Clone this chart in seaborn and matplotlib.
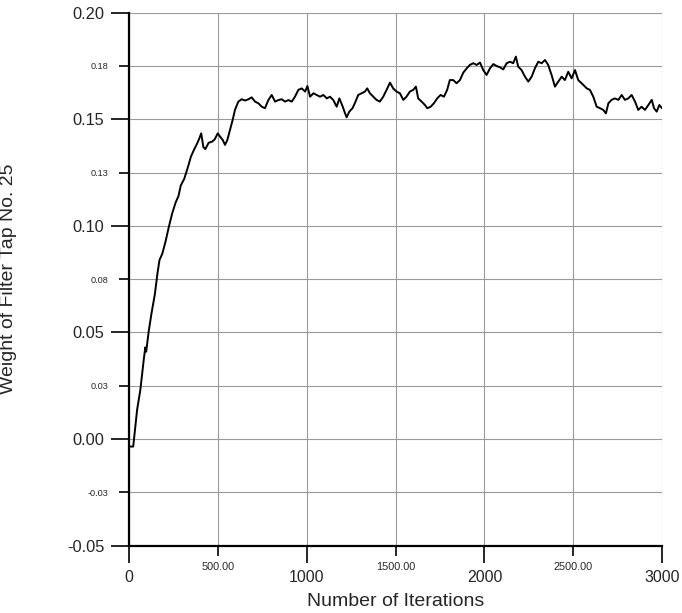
import matplotlib
matplotlib.use("Agg")
import matplotlib.pyplot as plt
import seaborn as sns
import pandas as pd

# Adaptive filter tap weight versus iteration count
iterations = [
    0, 22, 44, 62, 81, 90, 95, 110, 125, 144, 159, 170, 186, 205, 223, 242,
    261, 277, 290, 309, 328, 347, 366, 384, 394, 405, 417, 428, 447, 466, 481,
    498, 511, 526, 539, 552, 567, 582, 595, 614, 633, 652, 671, 689, 708, 727,
    746, 764, 783, 802, 821, 839, 858, 877, 896, 915, 933, 952, 971, 990, 1003,
    1018, 1037, 1055, 1074, 1093, 1112, 1130, 1149, 1168, 1183, 1202, 1215,
    1224, 1239, 1257, 1270, 1289, 1308, 1327, 1340, 1355, 1374, 1392, 1411,
    1430, 1449, 1468, 1486, 1505, 1524, 1543, 1561, 1580, 1599, 1614, 1627,
    1646, 1665, 1678, 1697, 1715, 1734, 1753, 1772, 1790, 1805, 1824, 1843,
    1862, 1881, 1900, 1918, 1937, 1956, 1975, 1993, 2012, 2031, 2050, 2068,
    2087, 2106, 2125, 2144, 2162, 2177, 2190, 2209, 2228, 2247, 2266, 2284,
    2303, 2322, 2341, 2359, 2378, 2397, 2416, 2435, 2453, 2472, 2491, 2510,
    2528, 2557, 2576, 2594, 2613, 2632, 2651, 2669, 2684, 2698, 2716, 2735,
    2754, 2773, 2791, 2810, 2829, 2848, 2866, 2885, 2904, 2923, 2942, 2955,
    2970, 2985, 3000,
]
weights = [
    -0.0035, -0.0035, 0.0138, 0.0230, 0.0370, 0.0430, 0.0410, 0.0510, 0.0590,
    0.0680, 0.0780, 0.0840, 0.0870, 0.0930, 0.0997, 0.1060, 0.1110, 0.1140,
    0.1190, 0.1220, 0.1270, 0.1325, 0.1360, 0.1390, 0.1410, 0.1434, 0.1370,
    0.1360, 0.1390, 0.1395, 0.1406, 0.1434, 0.1419, 0.1403, 0.1380, 0.1403,
    0.1450, 0.1497, 0.1544, 0.1583, 0.1594, 0.1588, 0.1594, 0.1603, 0.1583,
    0.1575, 0.1559, 0.1552, 0.1590, 0.1614, 0.1583, 0.1590, 0.1594, 0.1583,
    0.1590, 0.1583, 0.1606, 0.1638, 0.1645, 0.1630, 0.1656, 0.1606, 0.1622,
    0.1614, 0.1606, 0.1614, 0.1598, 0.1606, 0.1590, 0.1559, 0.1598, 0.1559,
    0.1528, 0.1509, 0.1536, 0.1552, 0.1575, 0.1614, 0.1622, 0.1630, 0.1645,
    0.1622, 0.1606, 0.1591, 0.1583, 0.1606, 0.1638, 0.1672, 0.1645, 0.1630,
    0.1622, 0.1591, 0.1606, 0.1630, 0.1638, 0.1653, 0.1598, 0.1583, 0.1567,
    0.1552, 0.1559, 0.1575, 0.1598, 0.1614, 0.1606, 0.1638, 0.1684, 0.1684,
    0.1669, 0.1684, 0.1719, 0.1739, 0.1755, 0.1763, 0.1755, 0.1766, 0.1731,
    0.1708, 0.1739, 0.1759, 0.1750, 0.1744, 0.1734, 0.1763, 0.1770, 0.1763,
    0.1794, 0.1747, 0.1731, 0.1700, 0.1677, 0.1700, 0.1739, 0.1770, 0.1763,
    0.1778, 0.1755, 0.1708, 0.1653, 0.1677, 0.1700, 0.1684, 0.1723, 0.1692,
    0.1731, 0.1684, 0.1661, 0.1645, 0.1638, 0.1606, 0.1559, 0.1552, 0.1544,
    0.1528, 0.1575, 0.1591, 0.1598, 0.1591, 0.1614, 0.1591, 0.1598, 0.1614,
    0.1583, 0.1544, 0.1559, 0.1544, 0.1567, 0.1591, 0.1552, 0.1536, 0.1567,
    0.1552,
]

y_major = [-0.05, 0.00, 0.05, 0.10, 0.15, 0.20]
y_major_labels = ["-0.05", "0.00", "0.05", "0.10", "0.15", "0.20"]
y_minor = [-0.025, 0.025, 0.075, 0.125, 0.175]
y_minor_labels = ["-0.03", "0.03", "0.08", "0.13", "0.18"]
x_major = [0, 1000, 2000, 3000]
x_major_labels = ["0", "1000", "2000", "3000"]
x_minor = [500, 1500, 2500]
x_minor_labels = ["500.00", "1500.00", "2500.00"]

df = pd.DataFrame({"iteration": iterations, "weight": weights})

sns.set_style("white")
plt.rcParams["font.family"] = ["Liberation Sans", "DejaVu Sans"]

fig = plt.figure(figsize=(6.82, 6.13), dpi=100)
ax = fig.add_axes([0.1896, 0.1098, 0.7811, 0.8695])

sns.lineplot(data=df, x="iteration", y="weight", ax=ax, color="black",
             linewidth=1.4, estimator=None, sort=False)

ax.set_xlim(0, 3000)
ax.set_ylim(-0.05, 0.20)

ax.set_xticks(x_major)
ax.set_xticklabels(x_major_labels)
ax.set_xticks(x_minor, minor=True)
ax.set_xticklabels(x_minor_labels, minor=True)
ax.set_yticks(y_major)
ax.set_yticklabels(y_major_labels)
ax.set_yticks(y_minor, minor=True)
ax.set_yticklabels(y_minor_labels, minor=True)

ax.grid(True, which="both", color="#9a9a9a", linewidth=0.8)
ax.set_axisbelow(True)

for side in ("top", "right"):
    ax.spines[side].set_visible(False)
for side in ("left", "bottom"):
    ax.spines[side].set_color("black")
    ax.spines[side].set_linewidth(1.6)

ax.tick_params(axis="both", which="both", direction="out", color="black",
               width=1.2, left=True, bottom=True)
ax.tick_params(axis="y", which="major", length=13, pad=5, labelsize=11.8)
ax.tick_params(axis="y", which="minor", length=7.2, pad=8, labelsize=6.6)
ax.tick_params(axis="x", which="major", length=12.5, pad=5, labelsize=11.4)
ax.tick_params(axis="x", which="minor", length=7.2, pad=4.5, labelsize=7.8)

ax.set_xlabel("Number of Iterations", fontsize=14)
ax.xaxis.set_label_coords(0.5, -0.088)
ax.set_ylabel("Weight of Filter Tap No. 25", fontsize=14)
ax.yaxis.set_label_coords(-0.211, 0.5)

fig.savefig("out.png", dpi=100)
